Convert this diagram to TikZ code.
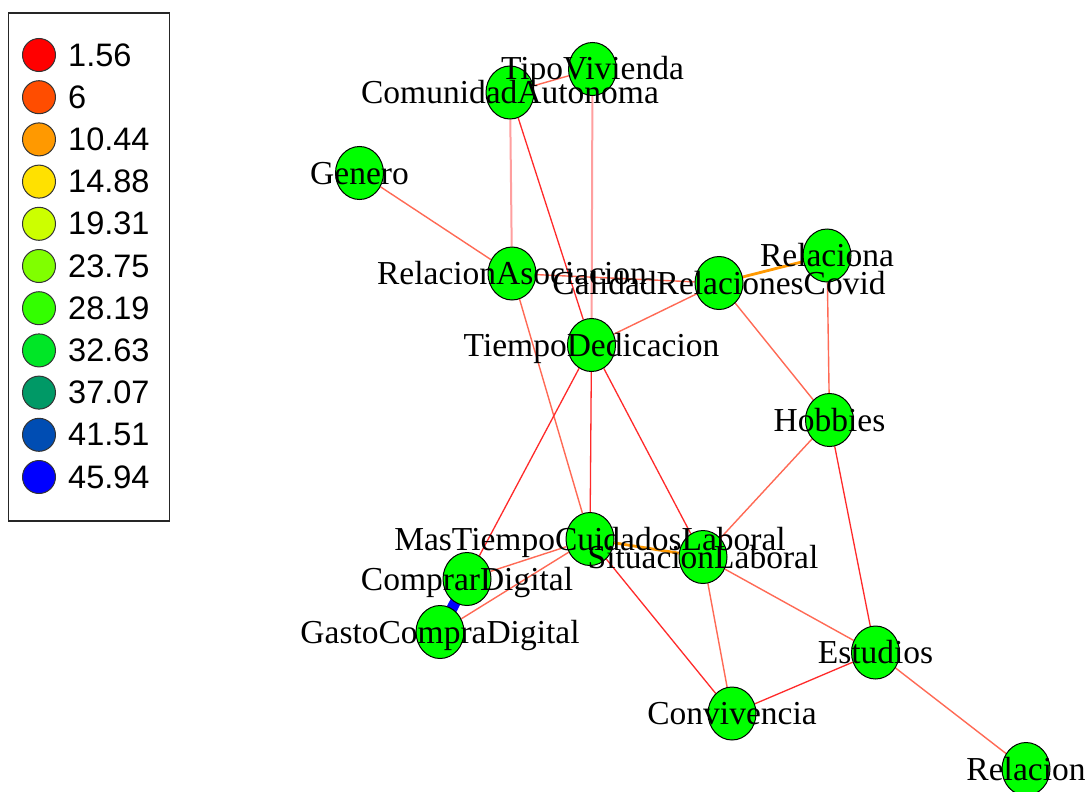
\documentclass[tikz,border=0pt]{standalone}
\usepackage{fontspec}
\setmainfont{Liberation Serif}
\newfontfamily\legfont{Liberation Sans}
\usetikzlibrary{shapes.geometric,backgrounds}
\definecolor{vgreen}{HTML}{00FF00}
\definecolor{ered}{HTML}{FF2A2A}
\definecolor{esalmon}{HTML}{FF6A55}
\definecolor{epink}{HTML}{FF9F9F}
\definecolor{eorange}{HTML}{FF9900}
\definecolor{lc1}{HTML}{FF0000}
\definecolor{lc2}{HTML}{FF4D00}
\definecolor{lc3}{HTML}{FF9900}
\definecolor{lc4}{HTML}{FFE100}
\definecolor{lc5}{HTML}{CCFF00}
\definecolor{lc6}{HTML}{80FF00}
\definecolor{lc7}{HTML}{33FF00}
\definecolor{lc8}{HTML}{00E626}
\definecolor{lc9}{HTML}{009966}
\definecolor{lc10}{HTML}{004DB3}
\definecolor{lc11}{HTML}{0000FF}
\begin{document}
\begin{tikzpicture}[x=1pt,y=-1pt,
  vtx/.style={ellipse, draw=black, line width=1pt, fill=vgreen, minimum width=48pt, minimum height=53pt, inner sep=0pt},
  lbl/.style={font=\fontsize{33.5}{34}\selectfont, anchor=base, inner sep=0pt, text=black},
  ered/.style={draw=ered, line width=1.3pt},
  esal/.style={draw=esalmon, line width=1.4pt},
  epink/.style={draw=epink, line width=2pt},
  eorg/.style={draw=eorange, line width=2.8pt},
  eblue/.style={draw=blue, line width=11pt},
  legdot/.style={circle, draw=black!80, line width=1pt, minimum size=33pt, inner sep=0pt},
  legtxt/.style={font=\legfont\fontsize{32.5}{33}\selectfont, anchor=west, inner sep=0pt, text=black}]

\useasboundingbox (0,0) rectangle (1089,792);

% vertices
\node[vtx] (tv) at (592.5,69) {};
\node[vtx] (ca) at (510,92.5) {};
\node[vtx] (ge) at (359.5,173) {};
\node[vtx] (ra) at (512,273.5) {};
\node[vtx] (cr) at (719,283) {};
\node[vtx] (rl) at (827,255.5) {};
\node[vtx] (td) at (591.5,345) {};
\node[vtx] (hb) at (829.5,420) {};
\node[vtx] (mt) at (590,539) {};
\node[vtx] (sl) at (703,557) {};
\node[vtx] (cd) at (467,579) {};
\node[vtx] (gc) at (440,632) {};
\node[vtx] (cv) at (732,713.5) {};
\node[vtx] (es) at (875.5,652.5) {};
\node[vtx] (re) at (1026,769) {};

% edges
\begin{scope}[on background layer]
\fill[white] (0,0) rectangle (1089,792);
\draw[esal] (tv) -- (ca);
\draw[epink] (tv) -- (td);
\draw[epink] (ca) -- (ra);
\draw[ered] (ca) -- (td);
\draw[esal] (ge) -- (ra);
\draw[esal] (ra) -- (cr);
\draw[esal] (ra) -- (mt);
\draw[eorg] (cr) -- (rl);
\draw[esal] (cr) -- (td);
\draw[esal] (cr) -- (hb);
\draw[esal] (rl) -- (hb);
\draw[ered] (td) -- (cd);
\draw[ered] (td) -- (mt);
\draw[ered] (td) -- (sl);
\draw[esal] (hb) -- (sl);
\draw[ered] (hb) -- (es);
\draw[eorg] (mt) -- (sl);
\draw[esal] (mt) -- (cd);
\draw[esal] (mt) -- (gc);
\draw[ered] (mt) -- (cv);
\draw[eblue] (cd.center) -- (gc.center);
\draw[esal] (sl) -- (cv);
\draw[esal] (sl) -- (es);
\draw[ered] (cv) -- (es);
\draw[esal] (es) -- (re);
\end{scope}

% labels
\node[lbl] (tvL) at ([yshift=-11pt]tv.center) {TipoVivienda};
\node[lbl] (caL) at ([yshift=-11pt]ca.center) {ComunidadAutonoma};
\node[lbl] (geL) at ([yshift=-11pt]ge.center) {Genero};
\node[lbl] (raL) at ([yshift=-11pt]ra.center) {RelacionAsociacion};
\node[lbl] (crL) at ([yshift=-11pt]cr.center) {CalidadRelacionesCovid};
\node[lbl] (rlL) at ([yshift=-11pt]rl.center) {Relaciona};
\node[lbl] (tdL) at ([yshift=-11pt]td.center) {TiempoDedicacion};
\node[lbl] (hbL) at ([yshift=-11pt]hb.center) {Hobbies};
\node[lbl] (mtL) at ([yshift=-11pt]mt.center) {MasTiempoCuidadosLaboral};
\node[lbl] (slL) at ([yshift=-11pt]sl.center) {SituacionLaboral};
\node[lbl] (cdL) at ([yshift=-11pt]cd.center) {ComprarDigital};
\node[lbl] (gcL) at ([yshift=-11pt]gc.center) {GastoCompraDigital};
\node[lbl] (cvL) at ([yshift=-11pt]cv.center) {Convivencia};
\node[lbl] (esL) at ([yshift=-11pt]es.center) {Estudios};
\node[lbl] (reL) at ([yshift=-11pt]re.center) {Relacion};

% legend
\draw[draw=black!85, line width=1.2pt] (8.5,13) rectangle (169.5,521);
\foreach \v/\c [count=\i from 0] in {1.56/lc1,6/lc2,10.44/lc3,14.88/lc4,19.31/lc5,23.75/lc6,28.19/lc7,32.63/lc8,37.07/lc9,41.51/lc10,45.94/lc11}{
  \node[legdot, fill=\c] (ld\i) at (39,{55+42.2*\i}) {};
  \node[legtxt] (lt\i) at (68,{55+42.2*\i}) {\v};
}
\end{tikzpicture}
\end{document}
